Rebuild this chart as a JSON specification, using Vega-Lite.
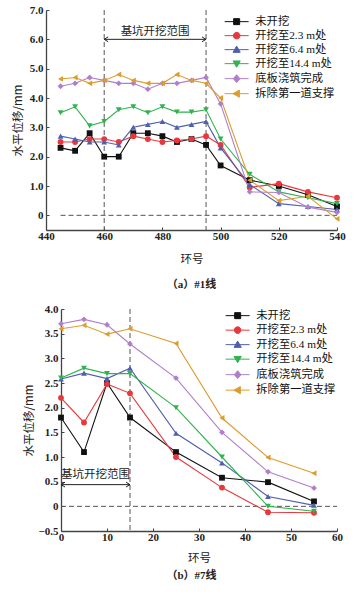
{
  "$schema": "https://vega.github.io/schema/vega-lite/v6.json",
  "padding": {"left": 12, "top": 4, "right": 4, "bottom": 2},
  "spacing": 13,
  "datasets": {
    "a": [
      {"ring":445,"series":"未开挖","disp":2.3},{"ring":450,"series":"未开挖","disp":2.2},{"ring":455,"series":"未开挖","disp":2.8},{"ring":460,"series":"未开挖","disp":2.0},{"ring":465,"series":"未开挖","disp":2.0},{"ring":470,"series":"未开挖","disp":2.8},{"ring":475,"series":"未开挖","disp":2.8},{"ring":480,"series":"未开挖","disp":2.7},{"ring":485,"series":"未开挖","disp":2.5},{"ring":490,"series":"未开挖","disp":2.6},{"ring":495,"series":"未开挖","disp":2.4},{"ring":500,"series":"未开挖","disp":1.7},{"ring":510,"series":"未开挖","disp":1.2},{"ring":520,"series":"未开挖","disp":1.0},{"ring":530,"series":"未开挖","disp":0.7},{"ring":540,"series":"未开挖","disp":0.3},
      {"ring":445,"series":"开挖至2.3 m处","disp":2.5},{"ring":450,"series":"开挖至2.3 m处","disp":2.5},{"ring":455,"series":"开挖至2.3 m处","disp":2.6},{"ring":460,"series":"开挖至2.3 m处","disp":2.6},{"ring":465,"series":"开挖至2.3 m处","disp":2.5},{"ring":470,"series":"开挖至2.3 m处","disp":2.7},{"ring":475,"series":"开挖至2.3 m处","disp":2.6},{"ring":480,"series":"开挖至2.3 m处","disp":2.5},{"ring":485,"series":"开挖至2.3 m处","disp":2.55},{"ring":490,"series":"开挖至2.3 m处","disp":2.6},{"ring":495,"series":"开挖至2.3 m处","disp":2.7},{"ring":500,"series":"开挖至2.3 m处","disp":2.4},{"ring":510,"series":"开挖至2.3 m处","disp":0.95},{"ring":520,"series":"开挖至2.3 m处","disp":1.08},{"ring":530,"series":"开挖至2.3 m处","disp":0.8},{"ring":540,"series":"开挖至2.3 m处","disp":0.6},
      {"ring":445,"series":"开挖至6.4 m处","disp":2.7},{"ring":450,"series":"开挖至6.4 m处","disp":2.6},{"ring":455,"series":"开挖至6.4 m处","disp":2.5},{"ring":460,"series":"开挖至6.4 m处","disp":2.5},{"ring":465,"series":"开挖至6.4 m处","disp":2.4},{"ring":470,"series":"开挖至6.4 m处","disp":3.0},{"ring":475,"series":"开挖至6.4 m处","disp":3.1},{"ring":480,"series":"开挖至6.4 m处","disp":3.2},{"ring":485,"series":"开挖至6.4 m处","disp":3.0},{"ring":490,"series":"开挖至6.4 m处","disp":3.1},{"ring":495,"series":"开挖至6.4 m处","disp":3.2},{"ring":500,"series":"开挖至6.4 m处","disp":2.3},{"ring":510,"series":"开挖至6.4 m处","disp":1.05},{"ring":520,"series":"开挖至6.4 m处","disp":0.4},{"ring":530,"series":"开挖至6.4 m处","disp":0.3},{"ring":540,"series":"开挖至6.4 m处","disp":0.2},
      {"ring":445,"series":"开挖至14.4 m处","disp":3.5},{"ring":450,"series":"开挖至14.4 m处","disp":3.7},{"ring":455,"series":"开挖至14.4 m处","disp":3.05},{"ring":460,"series":"开挖至14.4 m处","disp":3.2},{"ring":465,"series":"开挖至14.4 m处","disp":3.6},{"ring":470,"series":"开挖至14.4 m处","disp":3.7},{"ring":475,"series":"开挖至14.4 m处","disp":3.5},{"ring":480,"series":"开挖至14.4 m处","disp":3.7},{"ring":485,"series":"开挖至14.4 m处","disp":3.52},{"ring":490,"series":"开挖至14.4 m处","disp":3.52},{"ring":495,"series":"开挖至14.4 m处","disp":3.6},{"ring":500,"series":"开挖至14.4 m处","disp":2.6},{"ring":510,"series":"开挖至14.4 m处","disp":1.4},{"ring":520,"series":"开挖至14.4 m处","disp":0.8},{"ring":530,"series":"开挖至14.4 m处","disp":0.6},{"ring":540,"series":"开挖至14.4 m处","disp":0.4},
      {"ring":445,"series":"底板浇筑完成","disp":4.4},{"ring":450,"series":"底板浇筑完成","disp":4.5},{"ring":455,"series":"底板浇筑完成","disp":4.7},{"ring":460,"series":"底板浇筑完成","disp":4.6},{"ring":465,"series":"底板浇筑完成","disp":4.5},{"ring":470,"series":"底板浇筑完成","disp":4.5},{"ring":475,"series":"底板浇筑完成","disp":4.3},{"ring":480,"series":"底板浇筑完成","disp":4.5},{"ring":485,"series":"底板浇筑完成","disp":4.5},{"ring":490,"series":"底板浇筑完成","disp":4.6},{"ring":495,"series":"底板浇筑完成","disp":4.7},{"ring":500,"series":"底板浇筑完成","disp":3.8},{"ring":510,"series":"底板浇筑完成","disp":0.8},{"ring":520,"series":"底板浇筑完成","disp":0.78},{"ring":530,"series":"底板浇筑完成","disp":0.28},{"ring":540,"series":"底板浇筑完成","disp":0.1},
      {"ring":445,"series":"拆除第一道支撑","disp":4.65},{"ring":450,"series":"拆除第一道支撑","disp":4.7},{"ring":455,"series":"拆除第一道支撑","disp":4.5},{"ring":460,"series":"拆除第一道支撑","disp":4.6},{"ring":465,"series":"拆除第一道支撑","disp":4.8},{"ring":470,"series":"拆除第一道支撑","disp":4.6},{"ring":475,"series":"拆除第一道支撑","disp":4.5},{"ring":480,"series":"拆除第一道支撑","disp":4.5},{"ring":485,"series":"拆除第一道支撑","disp":4.8},{"ring":490,"series":"拆除第一道支撑","disp":4.6},{"ring":495,"series":"拆除第一道支撑","disp":4.5},{"ring":500,"series":"拆除第一道支撑","disp":4.0},{"ring":510,"series":"拆除第一道支撑","disp":1.2},{"ring":520,"series":"拆除第一道支撑","disp":0.5},{"ring":530,"series":"拆除第一道支撑","disp":0.65},{"ring":540,"series":"拆除第一道支撑","disp":-0.12}
    ],
    "b": [
      {"ring":0,"series":"未开挖","disp":1.8},{"ring":5,"series":"未开挖","disp":1.1},{"ring":10,"series":"未开挖","disp":2.5},{"ring":15,"series":"未开挖","disp":1.8},{"ring":25,"series":"未开挖","disp":1.1},{"ring":35,"series":"未开挖","disp":0.58},{"ring":45,"series":"未开挖","disp":0.49},{"ring":55,"series":"未开挖","disp":0.1},
      {"ring":0,"series":"开挖至2.3 m处","disp":2.2},{"ring":5,"series":"开挖至2.3 m处","disp":1.7},{"ring":10,"series":"开挖至2.3 m处","disp":2.48},{"ring":15,"series":"开挖至2.3 m处","disp":2.29},{"ring":25,"series":"开挖至2.3 m处","disp":1.0},{"ring":35,"series":"开挖至2.3 m处","disp":0.38},{"ring":45,"series":"开挖至2.3 m处","disp":-0.12},{"ring":55,"series":"开挖至2.3 m处","disp":-0.13},
      {"ring":0,"series":"开挖至6.4 m处","disp":2.58},{"ring":5,"series":"开挖至6.4 m处","disp":2.7},{"ring":10,"series":"开挖至6.4 m处","disp":2.59},{"ring":15,"series":"开挖至6.4 m处","disp":2.8},{"ring":25,"series":"开挖至6.4 m处","disp":1.48},{"ring":35,"series":"开挖至6.4 m处","disp":0.88},{"ring":45,"series":"开挖至6.4 m处","disp":0.2},{"ring":55,"series":"开挖至6.4 m处","disp":0.02},
      {"ring":0,"series":"开挖至14.4 m处","disp":2.6},{"ring":5,"series":"开挖至14.4 m处","disp":2.8},{"ring":10,"series":"开挖至14.4 m处","disp":2.69},{"ring":15,"series":"开挖至14.4 m处","disp":2.69},{"ring":25,"series":"开挖至14.4 m处","disp":2.0},{"ring":35,"series":"开挖至14.4 m处","disp":1.0},{"ring":45,"series":"开挖至14.4 m处","disp":0.0},{"ring":55,"series":"开挖至14.4 m处","disp":-0.1},
      {"ring":0,"series":"底板浇筑完成","disp":3.7},{"ring":5,"series":"底板浇筑完成","disp":3.79},{"ring":10,"series":"底板浇筑完成","disp":3.68},{"ring":15,"series":"底板浇筑完成","disp":3.29},{"ring":25,"series":"底板浇筑完成","disp":2.6},{"ring":35,"series":"底板浇筑完成","disp":1.5},{"ring":45,"series":"底板浇筑完成","disp":0.7},{"ring":55,"series":"底板浇筑完成","disp":0.37},
      {"ring":0,"series":"拆除第一道支撑","disp":3.6},{"ring":5,"series":"拆除第一道支撑","disp":3.67},{"ring":10,"series":"拆除第一道支撑","disp":3.49},{"ring":15,"series":"拆除第一道支撑","disp":3.6},{"ring":25,"series":"拆除第一道支撑","disp":3.3},{"ring":35,"series":"拆除第一道支撑","disp":1.79},{"ring":45,"series":"拆除第一道支撑","disp":0.99},{"ring":55,"series":"拆除第一道支撑","disp":0.67}
    ]
  },
  "vconcat": [
    {
      "width": 291,
      "height": 220,
      "title": {"text": "（a）#1线", "orient": "bottom", "offset": 14},
      "layer": [
        {
          "data": {"values": [{"ring": 460}, {"ring": 495}]},
          "mark": {"type": "rule", "strokeDash": [5, 3], "color": "#555", "strokeWidth": 1},
          "encoding": {"x": {"field": "ring", "type": "quantitative"}}
        },
        {
          "data": {"values": [{}]},
          "mark": {"type": "rule", "strokeDash": [5, 3], "color": "#555", "strokeWidth": 1},
          "encoding": {"x": {"datum": 445}, "x2": {"datum": 540}, "y": {"datum": 0}}
        },
        {
          "data": {"values": [{"from": 460, "to": 495}]},
          "mark": {"type": "rule", "color": "#222", "strokeWidth": 1},
          "encoding": {"x": {"field": "from", "type": "quantitative"}, "x2": {"field": "to"}, "y": {"datum": 6.0}}
        },
        {
          "data": {"values": [{"ring": 460}]},
          "mark": {"type": "point", "filled": false, "shape": "M2,-1.2L0,0L2,1.2", "size": 16, "color": "#222", "strokeWidth": 1, "opacity": 1},
          "encoding": {"x": {"field": "ring", "type": "quantitative"}, "y": {"datum": 6.0}}
        },
        {
          "data": {"values": [{"ring": 495}]},
          "mark": {"type": "point", "filled": false, "shape": "M-2,-1.2L0,0L-2,1.2", "size": 16, "color": "#222", "strokeWidth": 1, "opacity": 1},
          "encoding": {"x": {"field": "ring", "type": "quantitative"}, "y": {"datum": 6.0}}
        },
        {
          "data": {"values": [{"label": "基坑开挖范围"}]},
          "mark": {"type": "text", "font": "Noto Sans CJK SC", "fontSize": 11.5, "color": "#222"},
          "encoding": {"x": {"datum": 477.5}, "y": {"datum": 6.25}, "text": {"field": "label"}}
        },
        {
          "data": {"name": "a"},
          "mark": {"type": "line", "strokeWidth": 1.1},
          "encoding": {
            "x": {"field": "ring", "type": "quantitative", "title": "环号", "scale": {"domain": [440, 540], "nice": false, "zero": false}, "axis": {"values": [440, 460, 480, 500, 520, 540], "tickCount": 30, "labelOverlap": false}},
            "y": {"field": "disp", "type": "quantitative", "title": "水平位移/mm", "scale": {"domain": [-0.5, 7.0], "nice": false, "zero": false}, "axis": {"values": [0, 1, 2, 3, 4, 5, 6, 7], "tickCount": 30, "labelOverlap": false, "labelExpr": "datum.value == 0 ? '0' : format(datum.value, '.1f')", "titlePadding": 6}},
            "color": {"field": "series", "type": "nominal", "scale": {"domain": ["未开挖","开挖至2.3 m处","开挖至6.4 m处","开挖至14.4 m处","底板浇筑完成","拆除第一道支撑"], "range": ["#111111","#e8383d","#4f5fae","#2fb34f","#b07fcb","#dc9d2f"]}, "legend": null},
            "order": {"field": "ring"}
          }
        },
        {
          "data": {"name": "a"},
          "mark": {"type": "point", "filled": true, "size": 34, "opacity": 1},
          "encoding": {
            "x": {"field": "ring", "type": "quantitative"},
            "y": {"field": "disp", "type": "quantitative"},
            "color": {"field": "series", "type": "nominal", "scale": {"domain": ["未开挖","开挖至2.3 m处","开挖至6.4 m处","开挖至14.4 m处","底板浇筑完成","拆除第一道支撑"], "range": ["#111111","#e8383d","#4f5fae","#2fb34f","#b07fcb","#dc9d2f"]}, "legend": null},
            "shape": {"field": "series", "type": "nominal", "scale": {"domain": ["未开挖","开挖至2.3 m处","开挖至6.4 m处","开挖至14.4 m处","底板浇筑完成","拆除第一道支撑"], "range": ["square","circle","triangle-up","triangle-down","diamond","triangle-left"]}, "legend": null}
          }
        },
        {
          "data": {"name": "a"},
          "transform": [{"filter": "false"}],
          "mark": {"type": "point", "filled": true, "opacity": 1, "strokeWidth": 1},
          "encoding": {
            "x": {"field": "ring", "type": "quantitative"},
            "y": {"field": "disp", "type": "quantitative"},
            "fill": {"field": "series", "type": "nominal", "scale": {"domain": ["未开挖","开挖至2.3 m处","开挖至6.4 m处","开挖至14.4 m处","底板浇筑完成","拆除第一道支撑"], "range": ["#111111","#e8383d","#4f5fae","#2fb34f","#b07fcb","#dc9d2f"]}, "legend": {"title": " ", "titleFontSize": 1, "titlePadding": 3, "orient": "top-right", "offset": 2, "padding": 0, "symbolSize": 36, "symbolStrokeWidth": 1, "labelOffset": 13, "rowPadding": 2, "labelFontSize": 11.3, "labelFont": "Liberation Serif, Noto Sans CJK SC", "labelColor": "#111"}},
            "stroke": {"field": "series", "type": "nominal", "scale": {"domain": ["未开挖","开挖至2.3 m处","开挖至6.4 m处","开挖至14.4 m处","底板浇筑完成","拆除第一道支撑"], "range": ["#111111","#e8383d","#4f5fae","#2fb34f","#b07fcb","#dc9d2f"]}, "legend": {"title": " ", "titleFontSize": 1, "titlePadding": 3, "orient": "top-right", "offset": 2, "padding": 0, "symbolSize": 36, "symbolStrokeWidth": 1, "labelOffset": 13, "rowPadding": 2, "labelFontSize": 11.3, "labelFont": "Liberation Serif, Noto Sans CJK SC", "labelColor": "#111"}},
            "shape": {"field": "series", "type": "nominal", "scale": {"domain": ["未开挖","开挖至2.3 m处","开挖至6.4 m处","开挖至14.4 m处","底板浇筑完成","拆除第一道支撑"], "range": ["M-4,0L4,0M-1,-1L1,-1L1,1L-1,1Z","M-4,0L4,0M-1.1,0A1.1,1.1,0,1,1,1.1,0A1.1,1.1,0,1,1,-1.1,0Z","M-4,0L4,0M0,-1.2L1.2,0.9L-1.2,0.9Z","M-4,0L4,0M0,1.2L1.2,-0.9L-1.2,-0.9Z","M-4,0L4,0M0,-1.3L1.1,0L0,1.3L-1.1,0Z","M-4,0L4,0M-1.2,0L0.9,-1.2L0.9,1.2Z"]}, "legend": {"title": " ", "titleFontSize": 1, "titlePadding": 3, "orient": "top-right", "offset": 2, "padding": 0, "symbolSize": 36, "symbolStrokeWidth": 1, "labelOffset": 13, "rowPadding": 2, "labelFontSize": 11.3, "labelFont": "Liberation Serif, Noto Sans CJK SC", "labelColor": "#111"}}
          }
        }
      ],
      "resolve": {"scale": {"shape": "independent", "fill": "independent", "stroke": "independent"}}
    },
    {
      "width": 291,
      "height": 222,
      "title": {"text": "（b）#7线", "orient": "bottom", "offset": 6},
      "layer": [
        {
          "data": {"values": [{"ring": 15}]},
          "mark": {"type": "rule", "strokeDash": [5, 3], "color": "#555", "strokeWidth": 1},
          "encoding": {"x": {"field": "ring", "type": "quantitative"}}
        },
        {
          "data": {"values": [{}]},
          "mark": {"type": "rule", "strokeDash": [5, 3], "color": "#555", "strokeWidth": 1},
          "encoding": {"x": {"datum": 0}, "x2": {"datum": 60}, "y": {"datum": 0}}
        },
        {
          "data": {"values": [{"from": 0, "to": 15}]},
          "mark": {"type": "rule", "color": "#222", "strokeWidth": 1},
          "encoding": {"x": {"field": "from", "type": "quantitative"}, "x2": {"field": "to"}, "y": {"datum": 0.44}}
        },
        {
          "data": {"values": [{"ring": 0}]},
          "mark": {"type": "point", "filled": false, "shape": "M2,-1.2L0,0L2,1.2", "size": 16, "color": "#222", "strokeWidth": 1, "opacity": 1},
          "encoding": {"x": {"field": "ring", "type": "quantitative"}, "y": {"datum": 0.44}}
        },
        {
          "data": {"values": [{"ring": 15}]},
          "mark": {"type": "point", "filled": false, "shape": "M-2,-1.2L0,0L-2,1.2", "size": 16, "color": "#222", "strokeWidth": 1, "opacity": 1},
          "encoding": {"x": {"field": "ring", "type": "quantitative"}, "y": {"datum": 0.44}}
        },
        {
          "data": {"values": [{"label": "基坑开挖范围"}]},
          "mark": {"type": "text", "font": "Noto Sans CJK SC", "fontSize": 11.5, "color": "#222"},
          "encoding": {"x": {"datum": 7.5}, "y": {"datum": 0.63}, "text": {"field": "label"}}
        },
        {
          "data": {"name": "b"},
          "mark": {"type": "line", "strokeWidth": 1.1},
          "encoding": {
            "x": {"field": "ring", "type": "quantitative", "title": "环号", "scale": {"domain": [0, 60], "nice": false, "zero": false, "range": [15, 291]}, "axis": {"values": [0, 10, 20, 30, 40, 50, 60], "tickCount": 30, "labelOverlap": false, "titlePadding": 10}},
            "y": {"field": "disp", "type": "quantitative", "title": "水平位移/mm", "scale": {"domain": [-0.5, 4.0], "nice": false, "zero": false}, "axis": {"values": [-0.5, 0, 0.5, 1, 1.5, 2, 2.5, 3, 3.5, 4], "tickCount": 30, "labelOverlap": false, "offset": -15, "labelExpr": "datum.value == 0 ? '0' : replace(format(datum.value, '.1f'), '-', '−')", "titlePadding": 3}},
            "color": {"field": "series", "type": "nominal", "scale": {"domain": ["未开挖","开挖至2.3 m处","开挖至6.4 m处","开挖至14.4 m处","底板浇筑完成","拆除第一道支撑"], "range": ["#111111","#e8383d","#4f5fae","#2fb34f","#b07fcb","#dc9d2f"]}, "legend": null},
            "order": {"field": "ring"}
          }
        },
        {
          "data": {"name": "b"},
          "mark": {"type": "point", "filled": true, "size": 34, "opacity": 1},
          "encoding": {
            "x": {"field": "ring", "type": "quantitative"},
            "y": {"field": "disp", "type": "quantitative"},
            "color": {"field": "series", "type": "nominal", "scale": {"domain": ["未开挖","开挖至2.3 m处","开挖至6.4 m处","开挖至14.4 m处","底板浇筑完成","拆除第一道支撑"], "range": ["#111111","#e8383d","#4f5fae","#2fb34f","#b07fcb","#dc9d2f"]}, "legend": null},
            "shape": {"field": "series", "type": "nominal", "scale": {"domain": ["未开挖","开挖至2.3 m处","开挖至6.4 m处","开挖至14.4 m处","底板浇筑完成","拆除第一道支撑"], "range": ["square","circle","triangle-up","triangle-down","diamond","triangle-left"]}, "legend": null}
          }
        },
        {
          "data": {"name": "b"},
          "transform": [{"filter": "false"}],
          "mark": {"type": "point", "filled": true, "opacity": 1, "strokeWidth": 1},
          "encoding": {
            "x": {"field": "ring", "type": "quantitative"},
            "y": {"field": "disp", "type": "quantitative"},
            "fill": {"field": "series", "type": "nominal", "scale": {"domain": ["未开挖","开挖至2.3 m处","开挖至6.4 m处","开挖至14.4 m处","底板浇筑完成","拆除第一道支撑"], "range": ["#111111","#e8383d","#4f5fae","#2fb34f","#b07fcb","#dc9d2f"]}, "legend": {"title": null, "orient": "top-right", "offset": 1, "padding": 0, "symbolSize": 36, "symbolStrokeWidth": 1, "labelOffset": 13, "rowPadding": 2.5, "labelFontSize": 11.3, "labelFont": "Liberation Serif, Noto Sans CJK SC", "labelColor": "#111"}},
            "stroke": {"field": "series", "type": "nominal", "scale": {"domain": ["未开挖","开挖至2.3 m处","开挖至6.4 m处","开挖至14.4 m处","底板浇筑完成","拆除第一道支撑"], "range": ["#111111","#e8383d","#4f5fae","#2fb34f","#b07fcb","#dc9d2f"]}, "legend": {"title": null, "orient": "top-right", "offset": 1, "padding": 0, "symbolSize": 36, "symbolStrokeWidth": 1, "labelOffset": 13, "rowPadding": 2.5, "labelFontSize": 11.3, "labelFont": "Liberation Serif, Noto Sans CJK SC", "labelColor": "#111"}},
            "shape": {"field": "series", "type": "nominal", "scale": {"domain": ["未开挖","开挖至2.3 m处","开挖至6.4 m处","开挖至14.4 m处","底板浇筑完成","拆除第一道支撑"], "range": ["M-4,0L4,0M-1,-1L1,-1L1,1L-1,1Z","M-4,0L4,0M-1.1,0A1.1,1.1,0,1,1,1.1,0A1.1,1.1,0,1,1,-1.1,0Z","M-4,0L4,0M0,-1.2L1.2,0.9L-1.2,0.9Z","M-4,0L4,0M0,1.2L1.2,-0.9L-1.2,-0.9Z","M-4,0L4,0M0,-1.3L1.1,0L0,1.3L-1.1,0Z","M-4,0L4,0M-1.2,0L0.9,-1.2L0.9,1.2Z"]}, "legend": {"title": null, "orient": "top-right", "offset": 1, "padding": 0, "symbolSize": 36, "symbolStrokeWidth": 1, "labelOffset": 13, "rowPadding": 2.5, "labelFontSize": 11.3, "labelFont": "Liberation Serif, Noto Sans CJK SC", "labelColor": "#111"}}
          }
        }
      ],
      "resolve": {"scale": {"shape": "independent", "fill": "independent", "stroke": "independent"}}
    }
  ],
  "config": {
    "view": {"stroke": null},
    "axis": {
      "grid": false,
      "domainColor": "#444",
      "domainWidth": 1.3,
      "tickColor": "#444",
      "tickSize": -3,
      "labelOverlap": false,
      "labelFlush": false,
      "labelFont": "Liberation Serif",
      "labelFontWeight": "bold",
      "labelFontSize": 11,
      "labelColor": "#222",
      "titleFont": "Noto Sans CJK SC",
      "titleFontSize": 11.5,
      "titleFontWeight": "normal",
      "titleColor": "#222"
    },
    "axisX": {"labelPadding": 3, "titlePadding": 12},
    "axisY": {"labelPadding": 6},
    "title": {"font": "Liberation Serif, Noto Sans CJK SC", "fontSize": 11, "fontWeight": "bold", "color": "#222"}
  }
}
